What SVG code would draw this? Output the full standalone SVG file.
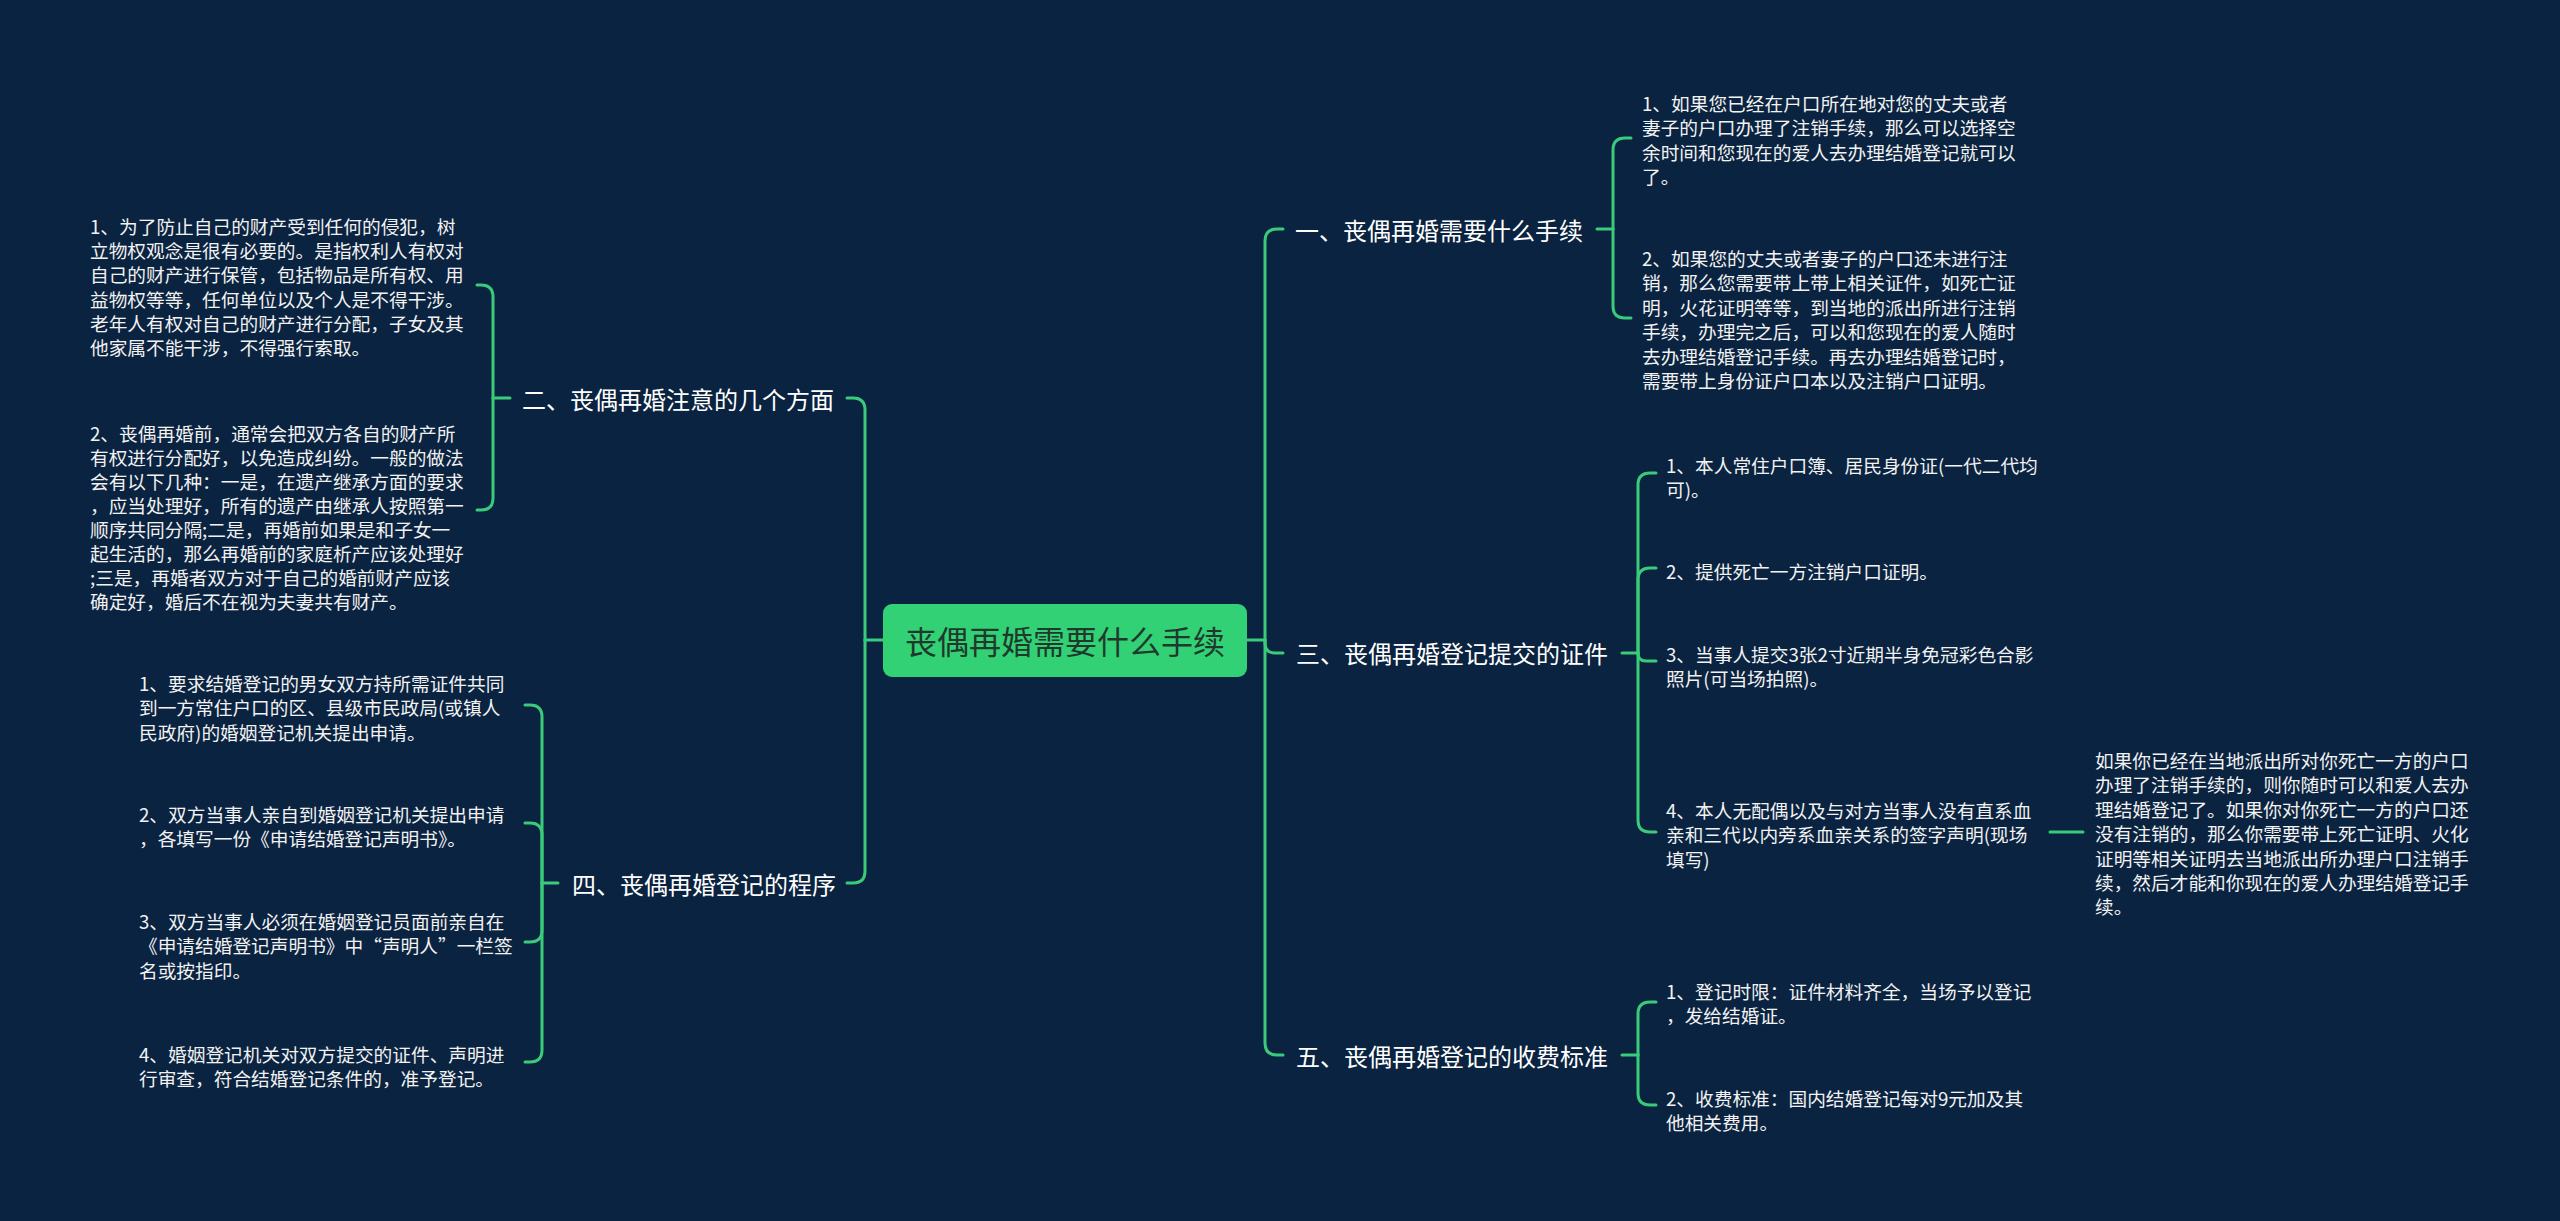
<svg xmlns="http://www.w3.org/2000/svg" width="2560" height="1221" viewBox="0 0 2560 1221">
<style>
.bg{fill:#0a2340}
.ln{fill:none;stroke:#3acb7a;stroke-width:3;stroke-linecap:round}
.t{font-family:"Noto Sans CJK SC","Noto Sans",sans-serif;fill:#f2f2f2;font-size:18.7px;dominant-baseline:central}
.lb{font-family:"Noto Sans CJK SC","Noto Sans",sans-serif;fill:#ffffff;font-size:24px;dominant-baseline:central}
.ct{font-family:"Noto Sans CJK SC","Noto Sans",sans-serif;fill:#1f3a2c;font-size:32px;dominant-baseline:central;text-anchor:middle}
.root{fill:#33d176}
</style>
<rect class="bg" x="0" y="0" width="2560" height="1221"/>
<g id="connectors">
<path class="ln" d="M1247 640 H1265"/>
<path class="ln" d="M1265 640 V241 Q1265 229 1277 229 H1283"/>
<path class="ln" d="M1265 640 V643 Q1265 653 1275 653 H1283"/>
<path class="ln" d="M1265 640 V1043 Q1265 1055 1277 1055 H1283"/>
<path class="ln" d="M883 640 H865"/>
<path class="ln" d="M865 640 V410 Q865 398 853 398 H847"/>
<path class="ln" d="M865 640 V871 Q865 883 853 883 H847"/>
<path class="ln" d="M1597 229 H1613"/>
<path class="ln" d="M1613 229 V150 Q1613 138 1625 138 H1631"/>
<path class="ln" d="M1613 229 V306 Q1613 318 1625 318 H1631"/>
<path class="ln" d="M1622 653 H1638"/>
<path class="ln" d="M1638 653 V485 Q1638 473 1650 473 H1656"/>
<path class="ln" d="M1638 653 V580 Q1638 568 1650 568 H1656"/>
<path class="ln" d="M1638 653 Q1638 661 1646 661 H1656"/>
<path class="ln" d="M1638 653 V820 Q1638 832 1650 832 H1656"/>
<path class="ln" d="M2050 832 H2083"/>
<path class="ln" d="M1622 1055 H1638"/>
<path class="ln" d="M1638 1055 V1014 Q1638 1002 1650 1002 H1656"/>
<path class="ln" d="M1638 1055 V1093 Q1638 1105 1650 1105 H1656"/>
<path class="ln" d="M510 398 H493"/>
<path class="ln" d="M493 398 V297 Q493 285 481 285 H477"/>
<path class="ln" d="M493 398 V498 Q493 510 481 510 H477"/>
<path class="ln" d="M558 883 H542"/>
<path class="ln" d="M542 883 V717 Q542 705 530 705 H525"/>
<path class="ln" d="M542 883 V835 Q542 823 530 823 H525"/>
<path class="ln" d="M542 883 V930 Q542 942 530 942 H525"/>
<path class="ln" d="M542 883 V1050 Q542 1062 530 1062 H525"/>
</g>
<g id="root">
<rect class="root" x="883" y="604" width="364" height="73" rx="9"/>
<text class="ct" x="1065" y="640">丧偶再婚需要什么手续</text>
</g>
<g id="b1"><text class="lb" x="1295" y="229">一、丧偶再婚需要什么手续</text></g>
<g id="b3"><text class="lb" x="1296" y="652">三、丧偶再婚登记提交的证件</text></g>
<g id="b5"><text class="lb" x="1296" y="1055">五、丧偶再婚登记的收费标准</text></g>
<g id="b2"><text class="lb" x="834" y="398" text-anchor="end">二、丧偶再婚注意的几个方面</text></g>
<g id="b4"><text class="lb" x="836" y="883" text-anchor="end">四、丧偶再婚登记的程序</text></g>
<g id="b1c1"><text class="t" y="102"><tspan x="1642">1、如果您已经在户口所在地对您的丈夫或者</tspan><tspan x="1642" dy="24.4">妻子的户口办理了注销手续，那么可以选择空</tspan><tspan x="1642" dy="24.4">余时间和您现在的爱人去办理结婚登记就可以</tspan><tspan x="1642" dy="24.4">了。</tspan></text></g>
<g id="b1c2"><text class="t" y="257"><tspan x="1642">2、如果您的丈夫或者妻子的户口还未进行注</tspan><tspan x="1642" dy="24.4">销，那么您需要带上带上相关证件，如死亡证</tspan><tspan x="1642" dy="24.4">明，火花证明等等，到当地的派出所进行注销</tspan><tspan x="1642" dy="24.4">手续，办理完之后，可以和您现在的爱人随时</tspan><tspan x="1642" dy="24.4">去办理结婚登记手续。再去办理结婚登记时，</tspan><tspan x="1642" dy="24.4">需要带上身份证户口本以及注销户口证明。</tspan></text></g>
<g id="b3c1"><text class="t" y="464"><tspan x="1666">1、本人常住户口簿、居民身份证(一代二代均</tspan><tspan x="1666" dy="24.4">可)。</tspan></text></g>
<g id="b3c2"><text class="t" y="570"><tspan x="1666">2、提供死亡一方注销户口证明。</tspan></text></g>
<g id="b3c3"><text class="t" y="653"><tspan x="1666">3、当事人提交3张2寸近期半身免冠彩色合影</tspan><tspan x="1666" dy="24.4">照片(可当场拍照)。</tspan></text></g>
<g id="b3c4"><text class="t" y="809"><tspan x="1666">4、本人无配偶以及与对方当事人没有直系血</tspan><tspan x="1666" dy="24.4">亲和三代以内旁系血亲关系的签字声明(现场</tspan><tspan x="1666" dy="24.4">填写)</tspan></text></g>
<g id="b3c4g"><text class="t" y="759"><tspan x="2095">如果你已经在当地派出所对你死亡一方的户口</tspan><tspan x="2095" dy="24.4">办理了注销手续的，则你随时可以和爱人去办</tspan><tspan x="2095" dy="24.4">理结婚登记了。如果你对你死亡一方的户口还</tspan><tspan x="2095" dy="24.4">没有注销的，那么你需要带上死亡证明、火化</tspan><tspan x="2095" dy="24.4">证明等相关证明去当地派出所办理户口注销手</tspan><tspan x="2095" dy="24.4">续，然后才能和你现在的爱人办理结婚登记手</tspan><tspan x="2095" dy="24.4">续。</tspan></text></g>
<g id="b5c1"><text class="t" y="990"><tspan x="1666">1、登记时限：证件材料齐全，当场予以登记</tspan><tspan x="1666" dy="24.4">，发给结婚证。</tspan></text></g>
<g id="b5c2"><text class="t" y="1097"><tspan x="1666">2、收费标准：国内结婚登记每对9元加及其</tspan><tspan x="1666" dy="24.4">他相关费用。</tspan></text></g>
<g id="b2c1"><text class="t" y="225"><tspan x="90">1、为了防止自己的财产受到任何的侵犯，树</tspan><tspan x="90" dy="24.2">立物权观念是很有必要的。是指权利人有权对</tspan><tspan x="90" dy="24.2">自己的财产进行保管，包括物品是所有权、用</tspan><tspan x="90" dy="24.2">益物权等等，任何单位以及个人是不得干涉。</tspan><tspan x="90" dy="24.2">老年人有权对自己的财产进行分配，子女及其</tspan><tspan x="90" dy="24.2">他家属不能干涉，不得强行索取。</tspan></text></g>
<g id="b2c2"><text class="t" y="432"><tspan x="90">2、丧偶再婚前，通常会把双方各自的财产所</tspan><tspan x="90" dy="24">有权进行分配好，以免造成纠纷。一般的做法</tspan><tspan x="90" dy="24">会有以下几种：一是，在遗产继承方面的要求</tspan><tspan x="90" dy="24">，应当处理好，所有的遗产由继承人按照第一</tspan><tspan x="90" dy="24">顺序共同分隔;二是，再婚前如果是和子女一</tspan><tspan x="90" dy="24">起生活的，那么再婚前的家庭析产应该处理好</tspan><tspan x="90" dy="24">;三是，再婚者双方对于自己的婚前财产应该</tspan><tspan x="90" dy="24">确定好，婚后不在视为夫妻共有财产。</tspan></text></g>
<g id="b4c1"><text class="t" y="682"><tspan x="139">1、要求结婚登记的男女双方持所需证件共同</tspan><tspan x="139" dy="24.4">到一方常住户口的区、县级市民政局(或镇人</tspan><tspan x="139" dy="24.4">民政府)的婚姻登记机关提出申请。</tspan></text></g>
<g id="b4c2"><text class="t" y="813"><tspan x="139">2、双方当事人亲自到婚姻登记机关提出申请</tspan><tspan x="139" dy="24.4">，各填写一份《申请结婚登记声明书》。</tspan></text></g>
<g id="b4c3"><text class="t" y="920"><tspan x="139">3、双方当事人必须在婚姻登记员面前亲自在</tspan><tspan x="139" dy="24.4">《申请结婚登记声明书》中“声明人”一栏签</tspan><tspan x="139" dy="24.4">名或按指印。</tspan></text></g>
<g id="b4c4"><text class="t" y="1053"><tspan x="139">4、婚姻登记机关对双方提交的证件、声明进</tspan><tspan x="139" dy="24.4">行审查，符合结婚登记条件的，准予登记。</tspan></text></g>
</svg>
